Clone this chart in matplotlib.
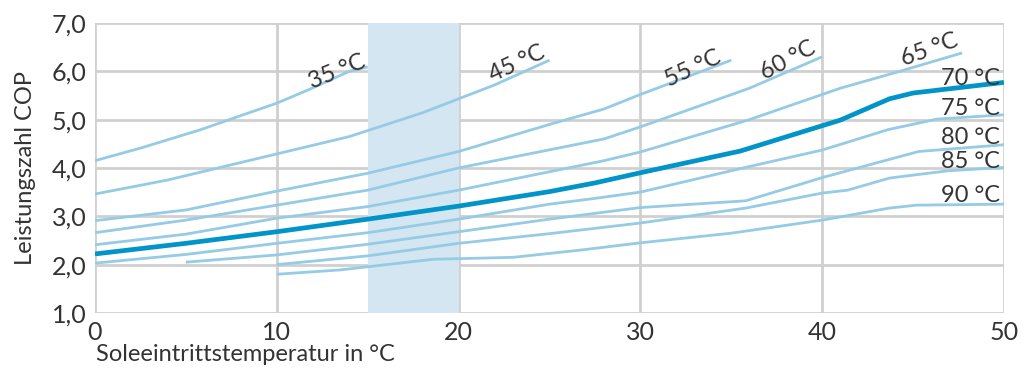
import matplotlib
matplotlib.use("Agg")
import matplotlib.pyplot as plt
from matplotlib.ticker import FuncFormatter

# Vorlauftemperaturen und COP-Kurven
x35 = [0, 2.5, 5.8, 8, 10, 11.7, 14, 15]
y35 = [4.15, 4.41, 4.79, 5.08, 5.34, 5.61, 6.0, 6.09]

x45 = [0, 4, 7, 10, 14, 18, 22, 25]
y45 = [3.46, 3.75, 4.02, 4.29, 4.65, 5.14, 5.72, 6.23]

x55 = [0, 5, 10, 15, 20, 25, 28, 30, 35]
y55 = [2.91, 3.13, 3.52, 3.89, 4.34, 4.9, 5.22, 5.52, 6.23]

x60 = [0, 5, 10, 15, 20, 28, 30, 36, 40]
y60 = [2.66, 2.92, 3.23, 3.54, 4.0, 4.6, 4.85, 5.65, 6.30]

x65 = [0, 5, 10, 15, 20, 28, 30, 36, 41, 44, 47.7]
y65 = [2.41, 2.63, 2.96, 3.20, 3.54, 4.15, 4.33, 5.0, 5.65, 5.97, 6.38]

x70 = [0, 5, 10, 15, 20, 25, 27.5, 30, 35.5, 41, 43.7, 45, 50]
y70 = [2.22, 2.44, 2.68, 2.94, 3.21, 3.51, 3.69, 3.90, 4.35, 4.99, 5.43, 5.55, 5.77]

x75 = [0, 5, 10, 15, 20, 25, 27.5, 30, 36, 40, 43.6, 46.3, 50]
y75 = [2.03, 2.21, 2.44, 2.66, 2.94, 3.25, 3.37, 3.50, 4.03, 4.37, 4.79, 5.01, 5.10]

x80 = [5, 10, 15, 20, 25, 30, 35.8, 40, 45.3, 50]
y80 = [2.05, 2.20, 2.42, 2.68, 2.94, 3.18, 3.32, 3.80, 4.34, 4.48]

x85 = [10, 15, 20, 25, 30, 35.8, 40, 41.4, 43.7, 46.9, 50]
y85 = [2.0, 2.18, 2.44, 2.64, 2.86, 3.17, 3.48, 3.54, 3.79, 3.94, 4.01]

x90 = [10, 13.5, 18.6, 23, 26.7, 30, 35, 40, 43.7, 45.2, 50]
y90 = [1.80, 1.89, 2.11, 2.15, 2.30, 2.45, 2.65, 2.92, 3.17, 3.23, 3.25]

curves = [(x35, y35), (x45, y45), (x55, y55), (x60, y60), (x65, y65),
          (x70, y70), (x75, y75), (x80, y80), (x85, y85), (x90, y90)]
labels = ["35 °C", "45 °C", "55 °C", "60 °C", "65 °C",
          "70 °C", "75 °C", "80 °C", "85 °C", "90 °C"]

# schraege Beschriftungen: (x, y, Winkel)
slanted = {"35 °C": (13.3, 5.98, 22), "45 °C": (23.2, 6.15, 25),
           "55 °C": (32.9, 6.05, 25), "60 °C": (38.1, 6.22, 28),
           "65 °C": (45.9, 6.44, 20)}
# rechte Beschriftungen: y-Position
right_y = {"70 °C": 5.85, "75 °C": 5.23, "80 °C": 4.64, "85 °C": 4.13, "90 °C": 3.43}

light = "#95cbe4"
dark = "#0094c9"
grid_c = "#d0d0d0"
txt = "#333333"

plt.rcParams['font.family'] = ['Lato', 'DejaVu Sans']

fig = plt.figure(figsize=(10.27, 3.69), dpi=100)
ax = fig.add_axes([0.0925, 0.152, 0.8851, 0.7858])

ax.set_xlim(0, 50)
ax.set_ylim(1, 7)
ax.set_xticks([0, 10, 20, 30, 40, 50])
ax.set_yticks([1, 2, 3, 4, 5, 6, 7])
ax.yaxis.set_major_formatter(FuncFormatter(lambda v, p: ("%.1f" % v).replace(".", ",")))
ax.set_axisbelow(True)
ax.grid(True, color=grid_c, linewidth=2)
for s in ax.spines.values():
    s.set_visible(False)
ax.tick_params(length=0, labelsize=18, colors=txt, pad=6)

ax.axvspan(15, 20, color="#d4e6f2", zorder=1, linewidth=0)

for (xs, ys), lab in zip(curves, labels):
    if lab == "70 °C":
        ax.plot(xs, ys, color=dark, linewidth=3.4, zorder=3, solid_capstyle='butt')
    else:
        ax.plot(xs, ys, color=light, linewidth=2.0, zorder=2, solid_capstyle='butt')

for lab, (tx, ty, rot) in slanted.items():
    ax.text(tx, ty, lab, rotation=rot, ha='center', va='center', fontsize=17,
            color=txt, rotation_mode='anchor', zorder=4)
for lab, ty in right_y.items():
    ax.text(49.8, ty, lab, ha='right', va='center', fontsize=17, color=txt, zorder=4)

fig.text(0.0245, 0.545, "Leistungszahl COP", rotation=90, ha='center', va='center',
         fontsize=17, color=txt)
fig.text(0.093, 0.038, "Soleeintrittstemperatur in °C", ha='left', va='center',
         fontsize=17, color=txt)

fig.savefig("out.png", dpi=100)
